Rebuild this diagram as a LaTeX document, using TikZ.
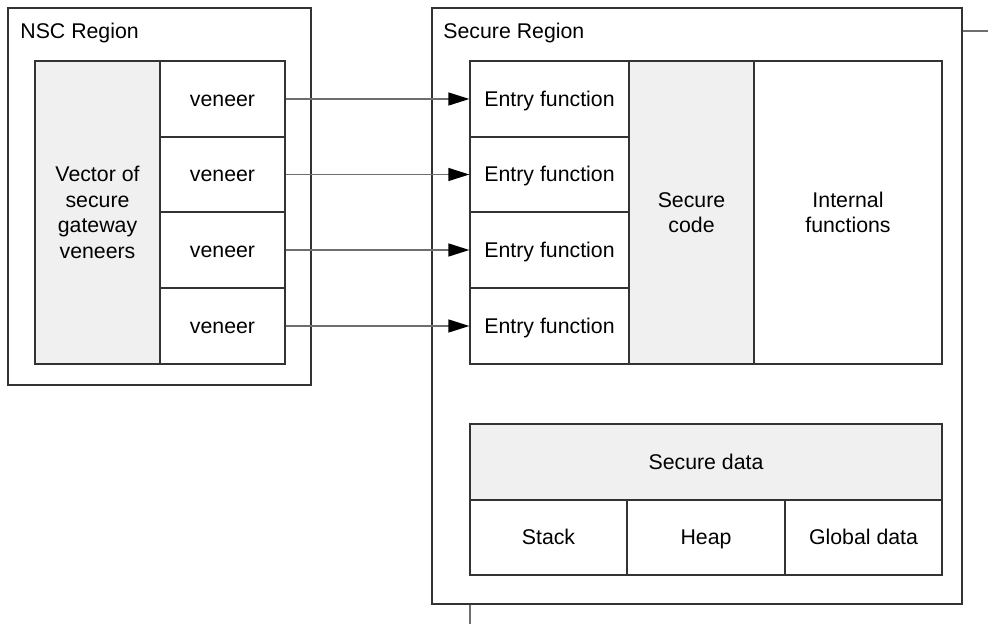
\documentclass[tikz,border=0pt]{standalone}
\usepackage{fontspec}
\setmainfont{Liberation Sans}
\usetikzlibrary{arrows.meta}
\definecolor{edge}{HTML}{333333}
\definecolor{wire}{HTML}{6E6E6E}
\definecolor{shade}{HTML}{F0F0F0}
\begin{document}
\begin{tikzpicture}[x=0.5pt,y=-0.5pt,
  font=\fontsize{10.65}{12.75}\selectfont,
  sz/.style 2 args={minimum width=#1*0.5pt, minimum height=#2*0.5pt},
  cell/.style={draw=edge, line width=0.65pt, fill=white, inner sep=0pt, align=center},
  one/.style={text height=0.72em, text depth=0pt},
  grey/.style={cell, fill=shade},
  region/.style={draw=edge, line width=0.65pt, inner sep=0pt},
  link/.style={draw=wire, line width=0.65pt,
    -{Triangle[length=10.5pt,width=6.5pt,color=black,fill=black]}},
  stub/.style={draw=wire, line width=0.65pt}]
\useasboundingbox (0,0) rectangle (988,624);

% Region frames
\node[region, sz={303}{377}] (nsc) at (159.5,196.5) {};
\node[region, sz={530}{596}] (sec) at (697,306) {};
\node[anchor=west, inner sep=0pt, one] (nsclbl) at (20,31) {NSC Region};
\node[anchor=west, inner sep=0pt, one] (seclbl) at (443,31) {Secure Region};

% Non-secure callable: veneer table
\node[grey, sz={125}{303}] (vec) at (97.5,212.5) {Vector of\\secure\\gateway\\veneers};
\node[cell, one, sz={125}{76}] (v1) at (222.5,99) {veneer};
\node[cell, one, sz={125}{75}] (v2) at (222.5,174.5) {veneer};
\node[cell, one, sz={125}{76}] (v3) at (222.5,250) {veneer};
\node[cell, one, sz={125}{76}] (v4) at (222.5,326) {veneer};

% Secure code
\node[cell, one, sz={159}{76}] (e1) at (549.5,99) {Entry function};
\node[cell, one, sz={159}{75}] (e2) at (549.5,174.5) {Entry function};
\node[cell, one, sz={159}{76}] (e3) at (549.5,250) {Entry function};
\node[cell, one, sz={159}{76}] (e4) at (549.5,326) {Entry function};
\node[grey, sz={125}{303}] (code) at (691.5,212.5) {Secure\\code};
\node[cell, sz={188}{303}] (intf) at (848,212.5) {Internal\\functions};

% Secure data
\node[grey, one, sz={472}{76}] (sdata) at (706,462) {Secure data};
\node[cell, one, sz={157}{75}] (stack) at (548.5,537.5) {Stack};
\node[cell, one, sz={158}{75}] (heap) at (706,537.5) {Heap};
\node[cell, one, sz={157}{75}] (glob) at (863.5,537.5) {Global data};

% Calls from veneers into entry functions
\draw[link] (v1.east) -- (e1.west);
\draw[link] (v2.east) -- (e2.west);
\draw[link] (v3.east) -- (e3.west);
\draw[link] (v4.east) -- (e4.west);

% Continuation lines off the frame
\coordinate (rt) at (988,31);
\coordinate (bt) at (470,624);
\draw[stub] (sec.east |- rt) -- (rt);
\draw[stub] (sec.south -| bt) -- (bt);
\end{tikzpicture}
\end{document}
